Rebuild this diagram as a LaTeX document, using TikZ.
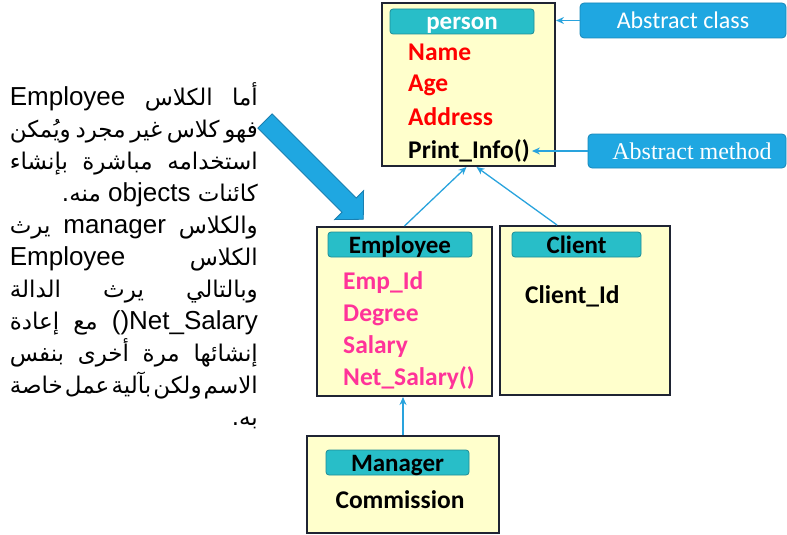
\documentclass[tikz,border=0pt]{standalone}
\usepackage{fontspec}
\setmainfont{Liberation Sans}
\newfontfamily\arabicfont[Script=Arabic]{DejaVu Sans}
\newfontfamily\boxfont{Carlito}
\newfontfamily\methodfont{Liberation Serif}
\TeXXeTstate=1
\usepackage{xcolor}
\usetikzlibrary{arrows.meta}

\definecolor{boxfill}{HTML}{FFFFCC}
\definecolor{boxline}{HTML}{1F2433}
\definecolor{barfill}{RGB}{40,190,200}
\definecolor{barline}{RGB}{30,140,150}
\definecolor{notefill}{RGB}{31,167,225}
\definecolor{noteline}{RGB}{24,135,185}
\definecolor{linkblue}{RGB}{41,163,221}
\definecolor{itempink}{HTML}{FF3399}
\definecolor{arrowline}{RGB}{26,127,176}

\newcommand\arline[1]{\hbox to 248pt{\beginR #1\endR}}
\newcommand\arright[1]{\hbox{\beginR #1\endR}}
\newcommand\lat[1]{{\rmfamily\fontsize{26}{30}\selectfont #1}}

\tikzset{
    classbox/.style={
        draw=boxline,
        fill=boxfill,
        line width=2pt,
        inner sep=0pt
    },
    titlebar/.style={
        draw=barline,
        fill=barfill,
        rounded corners=3pt,
        line width=0.8pt,
        minimum height=25pt,
        inner sep=0pt,
        text height=18pt,
        text depth=1pt,
        font=\boxfont\bfseries\fontsize{25}{30}\selectfont
    },
    item/.style={
        anchor=base west,
        inner sep=0pt,
        text height=17pt,
        text depth=5pt,
        font=\boxfont\bfseries\fontsize{25.5}{30}\selectfont
    },
    note/.style={
        draw=noteline,
        fill=notefill,
        rounded corners=4pt,
        line width=0.8pt,
        text=white,
        inner sep=0pt
    },
    link/.style={
        draw=linkblue,
        line width=1.3pt,
        -{Stealth[length=8pt, width=7pt]}
    }
}

\begin{document}
\begin{tikzpicture}[
    x=1pt, y=-1pt,
    textline/.style = {anchor=base east, inner sep=0pt, font=\arabicfont\fontsize{23}{27}\selectfont}
]
\useasboundingbox (0,0) rectangle (787,535);

% Define the class boxes
\node[classbox, minimum width=173pt, minimum height=163pt] (person) at (468.5,84.5) {};
\node[classbox, minimum width=175pt, minimum height=169pt] (employee) at (404.5,311.5) {};
\node[classbox, minimum width=170pt, minimum height=169pt] (client) at (585,310.5) {};
\node[classbox, minimum width=192pt, minimum height=97pt] (manager) at (403,484.5) {};

% Title bars
\node[titlebar, minimum width=144pt, text=white] (persontitle) at (462,21.5) {person};
\node[titlebar, minimum width=144pt] (emptitle) at (400,244.5) {Employee};
\node[titlebar, minimum width=129pt] (clienttitle) at (576.5,244.5) {Client};
\node[titlebar, minimum width=143pt] (mgrtitle) at (397.5,462.5) {Manager};

% Members of person
\node[item, text=red] (name) at (408,60) {Name};
\node[item, text=red] (age) at (408,92) {Age};
\node[item, text=red] (address) at (408,125) {Address};
\node[item] (pinfo) at (408,158) {Print\_Info()};

% Members of Employee
\node[item, text=itempink] (empid) at (343,289) {Emp\_Id};
\node[item, text=itempink] (degree) at (343,321) {Degree};
\node[item, text=itempink] (salary) at (343,353) {Salary};
\node[item, text=itempink] (netsalary) at (343,385) {Net\_Salary()};

% Members of Client and Manager
\node[item] (clientid) at (525,303) {Client\_Id};
\node[item, anchor=base] (commission) at (400,508) {Commission};

% Notes on the right
\node[note, minimum width=206pt, minimum height=35pt, font=\boxfont\fontsize{24}{28}\selectfont] (aclass) at (683,20.5) {Abstract class};
\node[note, minimum width=198pt, minimum height=34pt, font=\methodfont\fontsize{24}{28}\selectfont] (amethod) at (687,151) {\hspace*{10pt}Abstract method};

% Inheritance links
\draw[link] (employee.north) -- ([xshift=-2pt]person.south);
\draw[link] ([xshift=-28pt]client.north) -- ([xshift=8pt]person.south);
\draw[link] (manager.north) -- (manager.north |- employee.south);

% Links from the notes
\draw[link] (aclass.west) -- (aclass.west -| person.east);
\draw[link, shorten >=2pt] (amethod.west) -- (amethod.west -| pinfo.east);

% Big arrow towards Employee
\fill[notefill, draw=arrowline, line width=0.8pt] (272.1,113.9) -- (356.2,198.0) -- (363.6,190.6) -- (363.3,219.3)
    -- (334.6,219.6) -- (342.0,212.2) -- (257.9,128.1) -- cycle;

% Arabic text
\node[textline] (line1) at (258,105) {\arline{أما\hfill الكلاس\hfill \lat{Employee}}};
\node[textline] (line2) at (258,137) {\arline{فهو\hfill كلاس\hfill غير\hfill مجرد\hfill ويُمكن}};
\node[textline] (line3) at (258,169) {\arline{استخدامه\hfill مباشرة\hfill بإنشاء}};
\node[textline] (line4) at (258,201) {\arright{كائنات \lat{objects} منه.}};
\node[textline] (line5) at (258,233) {\arline{والكلاس\hfill \lat{manager}\hfill يرث}};
\node[textline] (line6) at (258,265) {\arline{الكلاس\hfill \lat{Employee}}};
\node[textline] (line7) at (258,297) {\arline{وبالتالي\hfill يرث\hfill الدالة}};
\node[textline] (line8) at (258,329) {\arline{\lat{()Net\_Salary}\hfill مع\hfill إعادة}};
\node[textline] (line9) at (258,361) {\arline{إنشائها\hfill مرة\hfill أخرى\hfill بنفس}};
\node[textline] (line10) at (258,393) {\arline{الاسم\hfill ولكن\hfill بآلية\hfill عمل\hfill خاصة}};
\node[textline] (line11) at (258,425) {\arright{به.}};

\end{tikzpicture}
\end{document}
